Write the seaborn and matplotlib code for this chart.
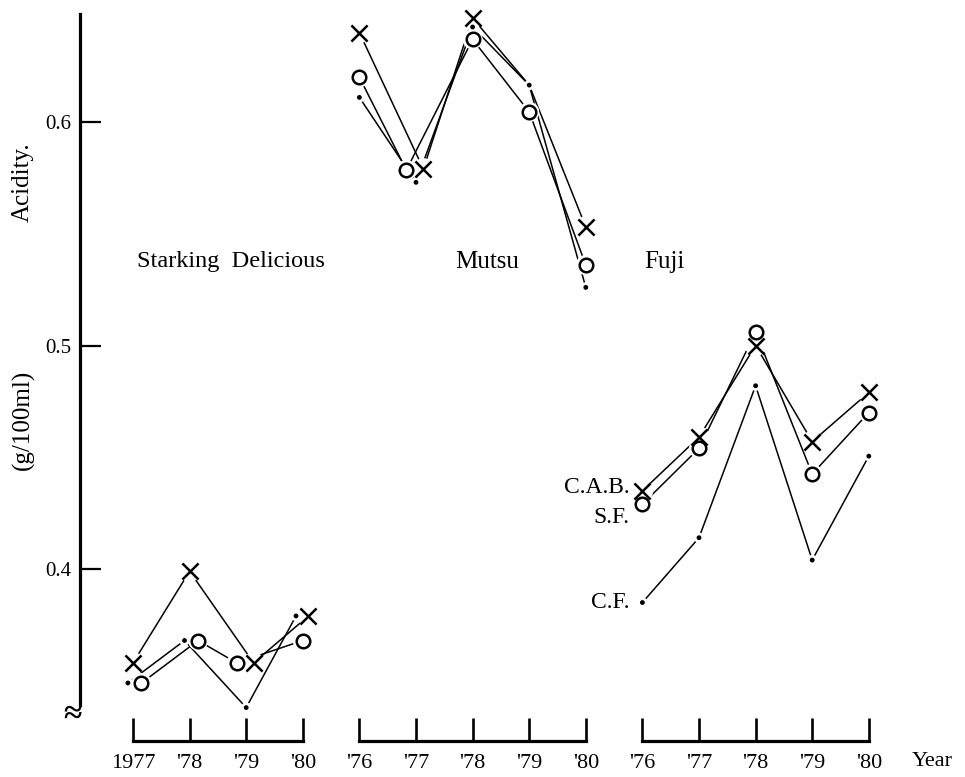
import matplotlib
matplotlib.use("Agg")
import matplotlib.pyplot as plt
import numpy as np
import pandas as pd
import seaborn as sns

# ---- data: titratable acidity (g/100ml) by cultivar, year and treatment ----
cultivars = ["Starking Delicious", "Mutsu", "Fuji"]
treatments = ["C.A.B.", "S.F.", "C.F."]

years_sd = ["1977", "'78", "'79", "'80"]
years_mu = ["'76", "'77", "'78", "'79", "'80"]
years_fu = ["'76", "'77", "'78", "'79", "'80"]

sd_cab = [0.358, 0.399, 0.358, 0.379]
sd_sf = [0.349, 0.368, 0.358, 0.368]
sd_cf = [0.349, 0.368, 0.338, 0.379]

mu_cab = [0.640, 0.579, 0.6465, 0.6165, 0.553]
mu_sf = [0.620, 0.5785, 0.637, 0.6045, 0.536]
mu_cf = [0.611, 0.573, 0.6425, 0.6165, 0.526]

fu_cab = [0.435, 0.459, 0.500, 0.457, 0.479]
fu_sf = [0.429, 0.454, 0.506, 0.4425, 0.470]
fu_cf = [0.385, 0.414, 0.482, 0.404, 0.4505]

# C.A.B. point printed only as the shared C.F. dot
cab_symbol_omitted = [("Mutsu", "'79")]

y_ticks = [0.4, 0.5, 0.6]

# ---- long table -------------------------------------------------------------
groups = [
    ("Starking Delicious", years_sd, {"C.A.B.": sd_cab, "S.F.": sd_sf, "C.F.": sd_cf}),
    ("Mutsu", years_mu, {"C.A.B.": mu_cab, "S.F.": mu_sf, "C.F.": mu_cf}),
    ("Fuji", years_fu, {"C.A.B.": fu_cab, "S.F.": fu_sf, "C.F.": fu_cf}),
]
rows = []
start = 0
group_pos = {}
for name, yrs, series in groups:
    group_pos[name] = list(range(start, start + len(yrs)))
    for i, yr in enumerate(yrs):
        for t in treatments:
            rows.append(dict(cultivar=name, year=yr, pos=start + i,
                             treatment=t, acidity=series[t][i]))
    start += len(yrs)
df = pd.DataFrame(rows)
df["x"] = df["pos"].astype(float)
df["show"] = True
for cv, yr in cab_symbol_omitted:
    df.loc[(df.cultivar == cv) & (df.year == yr) & (df.treatment == "C.A.B."), "show"] = False

# side-by-side dodge where two symbols would sit on top of each other
piv = df.pivot_table(index=["cultivar", "pos"], columns="treatment", values="acidity")
for (cv, p), r in piv.iterrows():
    sel = (df.cultivar == cv) & (df.pos == p)
    is_cab = sel & (df.treatment == "C.A.B.")
    is_sf = sel & (df.treatment == "S.F.")
    is_cf = sel & (df.treatment == "C.F.")
    if abs(r["C.A.B."] - r["S.F."]) < 0.004:
        df.loc[is_cab, "x"] += 0.13
        df.loc[is_sf, "x"] -= 0.17
    elif abs(r["C.A.B."] - r["C.F."]) < 0.002 and df.loc[is_cab, "show"].all():
        df.loc[is_cab, "x"] += 0.1
        df.loc[is_cf, "x"] -= 0.12
    if abs(r["S.F."] - r["C.F."]) < 0.002:
        df.loc[is_sf, "x"] += 0.15
        df.loc[is_cf, "x"] -= 0.09

# ---- figure layout ------------------------------------------------------------
sns.set_theme(style="white")
plt.rcParams["font.family"] = ["Liberation Serif", "DejaVu Serif"]
plt.rcParams["text.color"] = "black"

W, H = 965, 777
fig = plt.figure(figsize=(W / 100, H / 100), dpi=100)
fig.patch.set_facecolor("white")

left_px, right_px, top_px, bottom_px = 80, 950, 14, 705
rect = [left_px / W, 1 - bottom_px / H, (right_px - left_px) / W, (bottom_px - top_px) / H]
x0_px, step_px = 133, 56.6
y06_px, px_per_unit = 122, 2235.0
xlim = ((left_px - x0_px) / step_px, (right_px - x0_px) / step_px)
ylim = (0.6 - (bottom_px - y06_px) / px_per_unit, 0.6 + (y06_px - top_px) / px_per_unit)

ax = fig.add_axes(rect)
ax.set_facecolor("white")

# ---- lines ----------------------------------------------------------------------
for t in treatments:
    sub = df[df.treatment == t]
    sns.lineplot(data=sub, x="x", y="acidity", units="cultivar", estimator=None,
                 color="black", lw=1.1, ax=ax, zorder=1, legend=False)
for ln in ax.lines:
    ln.set_clip_on(False)

# white halos leave small gaps where lines meet the symbols
halo = {"C.A.B.": 240, "S.F.": 210, "C.F.": 55}
for t in treatments:
    sub = df[(df.treatment == t) & df.show]
    ax.scatter(sub["x"], sub["acidity"], s=halo[t], marker="o",
               color="white", edgecolors="none", zorder=2, clip_on=False)

# symbols
cab = df[(df.treatment == "C.A.B.") & df.show]
sf = df[df.treatment == "S.F."]
cf = df[df.treatment == "C.F."]
ax.scatter(cab["x"], cab["acidity"], marker="x", s=135, color="black",
           linewidths=1.8, zorder=3, clip_on=False)
ax.scatter(sf["x"], sf["acidity"], marker="o", s=95, facecolors="white",
           edgecolors="black", linewidths=1.8, zorder=3, clip_on=False)
ax.scatter(cf["x"], cf["acidity"], marker="o", s=12, color="black",
           edgecolors="none", zorder=4, clip_on=False)

ax.set_xlim(*xlim)
ax.set_ylim(*ylim)
for s in ["top", "right", "bottom"]:
    ax.spines[s].set_visible(False)
ax.spines["left"].set_linewidth(2.3)
ax.spines["left"].set_color("black")
ax.set_xticks([])
ax.set_yticks(y_ticks, [f"{v:.1f}" for v in y_ticks])
ax.tick_params(axis="y", left=True, direction="in", length=15, width=1.6, pad=6,
               labelsize=15, colors="black")
ax.set_xlabel("")
ax.set_ylabel("")

# ---- separate year axes per cultivar ------------------------------------------
year_sets = {"Starking Delicious": years_sd, "Mutsu": years_mu, "Fuji": years_fu}
for name in cultivars:
    bx = fig.add_axes(rect, label=name)
    bx.patch.set_visible(False)
    bx.set_xlim(*xlim)
    bx.set_ylim(*ylim)
    for s in ["top", "right", "left"]:
        bx.spines[s].set_visible(False)
    pos = group_pos[name]
    bx.spines["bottom"].set_position(("outward", 26))
    bx.spines["bottom"].set_bounds(pos[0], pos[-1])
    bx.spines["bottom"].set_linewidth(2.3)
    bx.spines["bottom"].set_color("black")
    bx.set_xticks(pos, year_sets[name])
    bx.set_yticks([])
    bx.tick_params(axis="x", bottom=True, direction="in", length=16.5, width=1.9, pad=9,
                   labelsize=16, colors="black")

# ---- annotations ----------------------------------------------------------------
label_y = 0.5374
ax.text(1.73, label_y, "Starking  Delicious", ha="center", va="center", fontsize=17.5)
ax.text((487 - x0_px) / step_px, label_y, "Mutsu", ha="center", va="center", fontsize=18)
ax.text((664 - x0_px) / step_px, label_y, "Fuji", ha="center", va="center", fontsize=18)

fu0 = group_pos["Fuji"][0]
ax.annotate("C.A.B.", xy=(fu0, fu_cab[0]), xytext=(-13, 3), textcoords="offset pixels",
            ha="right", va="center", fontsize=17)
ax.annotate("S.F.", xy=(fu0, fu_sf[0]), xytext=(-13, -13), textcoords="offset pixels",
            ha="right", va="center", fontsize=17)
ax.annotate("C.F.", xy=(fu0, fu_cf[0]), xytext=(-13, 0), textcoords="offset pixels",
            ha="right", va="center", fontsize=17)

# axis break mark at the foot of the y axis
ax.annotate("\u2248", xy=(0, 0), xycoords="axes fraction", xytext=(-8, -9),
            textcoords="offset pixels", ha="center", va="center", fontsize=24,
            fontweight="bold")

fig.text(23 / W, 1 - 182 / H, "Acidity.", rotation=90, ha="center", va="center", fontsize=18)
fig.text(23 / W, 1 - 420 / H, "(g/100ml)", rotation=90, ha="center", va="center", fontsize=18)
fig.text(932 / W, 1 - 762 / H, "Year", ha="center", va="center", fontsize=16)

fig.savefig("out.png", dpi=100, facecolor="white")
